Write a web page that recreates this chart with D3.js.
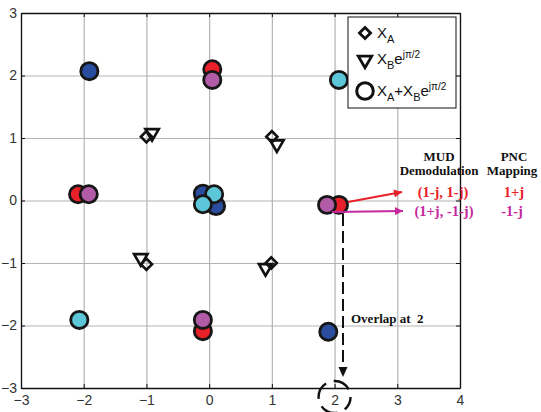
<!DOCTYPE html>
<html>
<head>
<meta charset="utf-8">
<script src="https://cdn.jsdelivr.net/npm/d3@7"></script>
<style>
  html, body { margin: 0; padding: 0; background: #fff; }
  svg { display: block; }
</style>
</head>
<body>
<svg id="chart" width="541" height="412"></svg>
<script>
// ---- data ----
const xTicks = [-3, -2, -1, 0, 1, 2, 3, 4];
const yTicks = [-3, -2, -1, 0, 1, 2, 3];

// X_A (diamonds)
const xaX = [-1.0, 1.0, -1.0, 0.99];
const xaY = [1.02, 1.02, -1.02, -1.0];
// X_B e^{j pi/2} (down triangles)
const xbX = [-0.91, 1.08, -1.09, 0.9];
const xbY = [1.08, 0.9, -0.92, -1.08];

// X_A + X_B e^{j pi/2} (filled circles), by colour group
const groups = ["blue", "red", "magenta", "cyan"];
const blueX = [-1.91, -0.1, 0.11, 1.9];
const blueY = [2.07, 0.11, -0.09, -2.1];
const redX = [0.05, -2.09, 2.07, -0.1];
const redY = [2.1, 0.1, -0.07, -2.09];
const magentaX = [0.05, -1.92, 1.88, -0.1];
const magentaY = [1.93, 0.1, -0.07, -1.91];
const cyanX = [2.07, 0.08, -0.1, -2.07];
const cyanY = [1.93, 0.1, -0.06, -1.91];

const mudHeader = ["MUD", "Demodulation"];
const pncHeader = ["PNC", "Mapping"];
const mudPairs = ["(1-j,  1-j)", "(1+j, -1-j)"];
const pncValues = ["1+j", "-1-j"];
const overlapText = "Overlap at  2";

// ---- drawing ----
const svg = d3.select("#chart");
const x = d3.scaleLinear().domain([-3, 4]).range([21, 460]);
const y = d3.scaleLinear().domain([-3, 3]).range([388, 13]);
const color = d3.scaleOrdinal().domain(groups)
  .range(["#2B4DA0", "#E8202A", "#B25BA6", "#5DC6D8"]);
const arrowMag = "#C4289E";
const W = 439, H = 375;
const fmt = d3.format("d");

// grid
svg.append("g").attr("transform", `translate(0,${y(-3)})`)
  .call(d3.axisBottom(x).tickValues(xTicks).tickSize(-H).tickFormat(""))
  .call(g => g.select(".domain").remove())
  .call(g => g.selectAll("line").attr("stroke", "#b4b4b4").attr("stroke-width", 1.2));
svg.append("g").attr("transform", `translate(${x(-3)},0)`)
  .call(d3.axisLeft(y).tickValues(yTicks).tickSize(-W).tickFormat(""))
  .call(g => g.select(".domain").remove())
  .call(g => g.selectAll("line").attr("stroke", "#b4b4b4").attr("stroke-width", 1.2));

// axes
const styleAxis = g => {
  g.select(".domain").attr("stroke", "#111").attr("stroke-width", 1.3);
  g.selectAll("line").attr("stroke", "#111");
  g.selectAll("text").attr("font-family", "Liberation Sans, Arial, sans-serif")
    .attr("font-size", 14).attr("fill", "#333");
};
svg.append("g").attr("transform", `translate(0,${y(-3)})`)
  .call(d3.axisBottom(x).tickValues(xTicks).tickFormat(fmt).tickSize(-4).tickSizeOuter(0).tickPadding(7))
  .call(styleAxis);
svg.append("g").attr("transform", `translate(${x(-3)},0)`)
  .call(d3.axisLeft(y).tickValues(yTicks).tickFormat(fmt).tickSize(-4).tickSizeOuter(0).tickPadding(4))
  .call(styleAxis);
svg.append("g").attr("transform", `translate(0,${y(3)})`)
  .call(d3.axisTop(x).tickValues(xTicks).tickSize(-4).tickSizeOuter(0).tickFormat(""))
  .call(styleAxis);
svg.append("g").attr("transform", `translate(${x(4)},0)`)
  .call(d3.axisRight(y).tickValues(yTicks).tickSize(-4).tickSizeOuter(0).tickFormat(""))
  .call(styleAxis);

// symbols
const diamondPath = d3.symbol().type(d3.symbolSquare).size(62)();
const triPath = d3.symbol().type(d3.symbolTriangle).size(78)();

svg.append("g").selectAll("path").data(d3.range(xbX.length)).join("path")
  .attr("d", triPath)
  .attr("transform", i => `translate(${x(xbX[i])},${y(xbY[i])}) rotate(180)`)
  .attr("fill", "none").attr("stroke", "#111").attr("stroke-width", 2.6);
svg.append("g").selectAll("path").data(d3.range(xaX.length)).join("path")
  .attr("d", diamondPath)
  .attr("transform", i => `translate(${x(xaX[i])},${y(xaY[i])}) rotate(45)`)
  .attr("fill", "none").attr("stroke", "#111").attr("stroke-width", 2.6);

// circles
const groupData = {
  blue: [blueX, blueY], red: [redX, redY],
  magenta: [magentaX, magentaY], cyan: [cyanX, cyanY]
};
groups.forEach(gname => {
  const [gx, gy] = groupData[gname];
  svg.append("g").selectAll("circle").data(d3.range(gx.length)).join("circle")
    .attr("cx", i => x(gx[i])).attr("cy", i => y(gy[i])).attr("r", 8.6)
    .attr("fill", color(gname)).attr("stroke", "#161616").attr("stroke-width", 2.8);
});

// legend
const lg = svg.append("g");
lg.append("rect").attr("x", 348).attr("y", 17).attr("width", 108).attr("height", 91)
  .attr("fill", "#fff").attr("stroke", "#111").attr("stroke-width", 1);
lg.append("path").attr("d", diamondPath)
  .attr("transform", "translate(365,33) rotate(45)")
  .attr("fill", "none").attr("stroke", "#111").attr("stroke-width", 2.8);
lg.append("path").attr("d", triPath)
  .attr("transform", "translate(365,60) rotate(180)")
  .attr("fill", "none").attr("stroke", "#111").attr("stroke-width", 2.8);
lg.append("circle").attr("cx", 365).attr("cy", 91).attr("r", 8.3)
  .attr("fill", "none").attr("stroke", "#111").attr("stroke-width", 3);

const lfont = "Liberation Sans, Arial, sans-serif";
function legText(yb, parts) {
  const t = lg.append("text").attr("x", 377).attr("y", yb)
    .attr("font-family", lfont).attr("font-size", 15).attr("fill", "#111");
  parts.forEach(([s, size, dy]) => {
    const ts = t.append("tspan").text(s).attr("dy", dy);
    if (size) ts.attr("font-size", size);
  });
}
legText(38, [["X", null, 0], ["A", 11, 5]]);
legText(64, [["X", null, 0], ["B", 11, 5], ["e", null, -5], ["jπ/2", 10, -6]]);
legText(96, [["X", null, 0], ["A", 11, 5], ["+X", null, -5], ["B", 11, 5], ["e", null, -5], ["jπ/2", 10, -6]]);

// annotations
const serif = "Liberation Serif, Times New Roman, serif";
const ann = svg.append("g").attr("font-family", serif).attr("font-weight", "bold")
  .attr("text-anchor", "middle").style("white-space", "pre");
ann.append("text").attr("x", 439).attr("y", 161).attr("font-size", 13).attr("fill", "#111").text(mudHeader[0]);
ann.append("text").attr("x", 439).attr("y", 175).attr("font-size", 13).attr("fill", "#111").text(mudHeader[1]);
ann.append("text").attr("x", 514).attr("y", 161).attr("font-size", 13).attr("fill", "#111").text(pncHeader[0]);
ann.append("text").attr("x", 512).attr("y", 175).attr("font-size", 13).attr("fill", "#111").text(pncHeader[1]);
ann.append("text").attr("x", 443).attr("y", 197).attr("font-size", 14.5).attr("fill", color("red")).text(mudPairs[0]);
ann.append("text").attr("x", 514).attr("y", 197).attr("font-size", 14.5).attr("fill", color("red")).text(pncValues[0]);
ann.append("text").attr("x", 444).attr("y", 216).attr("font-size", 14.5).attr("fill", arrowMag).text(mudPairs[1]);
ann.append("text").attr("x", 512).attr("y", 216).attr("font-size", 14.5).attr("fill", arrowMag).text(pncValues[1]);
svg.append("text").attr("x", 351).attr("y", 323).attr("font-family", serif)
  .attr("font-weight", "bold").attr("font-size", 13).attr("fill", "#111")
  .style("white-space", "pre").text(overlapText);

// arrows
const defs = svg.append("defs");
function marker(id, col) {
  defs.append("marker").attr("id", id).attr("viewBox", "0 0 10 10")
    .attr("refX", 10).attr("refY", 5).attr("markerWidth", 10).attr("markerHeight", 8)
    .attr("markerUnits", "userSpaceOnUse").attr("orient", "auto")
    .append("path").attr("d", "M0,0 L10,5 L0,10 Z").attr("fill", col);
}
marker("ar", color("red"));
marker("am", arrowMag);
svg.append("line").attr("x1", 348).attr("y1", 202).attr("x2", 402).attr("y2", 192)
  .attr("stroke", color("red")).attr("stroke-width", 2).attr("marker-end", "url(#ar)");
svg.append("line").attr("x1", 332).attr("y1", 212).attr("x2", 403).attr("y2", 211)
  .attr("stroke", arrowMag).attr("stroke-width", 2).attr("marker-end", "url(#am)");
svg.append("line").attr("x1", 343).attr("y1", 214).attr("x2", 343).attr("y2", 366)
  .attr("stroke", "#111").attr("stroke-width", 2).attr("stroke-dasharray", "12 5");
svg.append("path").attr("d", "M338.5,367 L347.5,367 L343,377 Z").attr("fill", "#111");

// dashed circle around tick label 2
svg.append("circle").attr("cx", x(2)).attr("cy", 397).attr("r", 16)
  .attr("fill", "none").attr("stroke", "#111").attr("stroke-width", 2.4)
  .attr("stroke-dasharray", "18 8").attr("stroke-dashoffset", 4);
</script>
</body>
</html>
